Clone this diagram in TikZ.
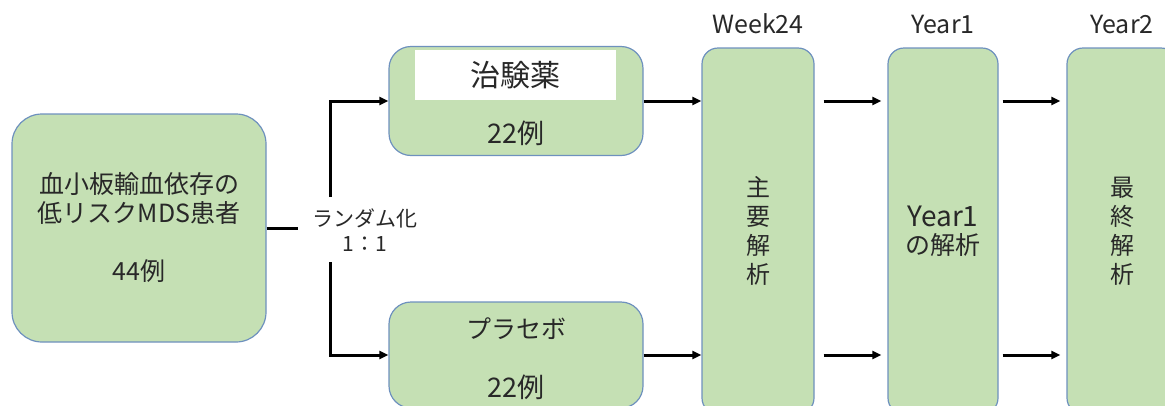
\documentclass[tikz,border=0pt]{standalone}
\usepackage{fontspec}
\setmainfont{Noto Sans CJK JP}
\usetikzlibrary{arrows.meta,calc}
\definecolor{boxfill}{RGB}{197,224,180}
\definecolor{boxline}{RGB}{110,145,190}
\definecolor{txt}{RGB}{40,40,40}
\begin{document}
\begin{tikzpicture}[x=1pt,y=-1pt,
  gbox/.style={draw=boxline,line width=1.2pt,fill=boxfill,text=txt,align=center,inner sep=0pt},
  conn/.style={line width=3pt,black},
  arr/.style={conn,-{Triangle[length=9pt,width=8pt]}},
  lbl/.style={text=txt,inner sep=0pt,font=\fontsize{25}{25}\selectfont}]
\useasboundingbox (0,0) rectangle (1165,405);
\clip (0,0) rectangle (1165,405);
% left box
\node[gbox,rounded corners=30pt,minimum width=254pt,minimum height=228pt,
  font=\fontsize{25}{29}\selectfont] (left) at (139,228)
  {血小板輸血依存の\\低リスクMDS患者\\[29pt]44例};
% treatment boxes
\node[gbox,rounded corners=22pt,minimum width=254pt,minimum height=109pt] (top) at (516,101) {};
\node[fill=white,minimum width=201pt,minimum height=50pt,inner sep=0pt,text=txt,
  font=\fontsize{30}{30}\selectfont] (topname) at (515.5,75) {治験薬};
\node[text=txt,inner sep=0pt,font=\fontsize{27}{30}\selectfont] (topn) at (516,133) {22例};
\node[gbox,rounded corners=22pt,minimum width=254pt,minimum height=106pt] (bot) at (516,355) {};
\node[text=txt,inner sep=0pt,font=\fontsize{25}{30}\selectfont] (botname) at (516,329) {プラセボ};
\node[text=txt,inner sep=0pt,font=\fontsize{27}{30}\selectfont] (botn) at (516,387) {22例};
% analysis columns
\node[gbox,rounded corners=16pt,minimum width=112pt,minimum height=366pt,
  font=\fontsize{24}{29}\selectfont] (c1) at (758,231) {主\\要\\解\\析};
\node[gbox,rounded corners=16pt,minimum width=110pt,minimum height=366pt,
  font=\fontsize{25}{28}\selectfont] (c2) at (943,231) {{\fontsize{28}{28}\selectfont Year1}\\の解析};
\node[gbox,rounded corners=16pt,minimum width=110pt,minimum height=366pt,
  font=\fontsize{24}{29}\selectfont] (c3) at (1122,231) {最\\終\\解\\析};
% time labels
\node[lbl] (t1) at (758,24) {Week24};
\node[lbl] (t2) at (943,24) {Year1};
\node[lbl] (t3) at (1122,24) {Year2};
% randomisation
\node[text=txt,align=center,inner sep=0pt,font=\fontsize{21}{25}\selectfont] (rand) at (365,230) {ランダム化\\1：1};
\coordinate (lend) at (298,228);
\coordinate (v1) at (330,197);
\coordinate (v2) at (330,262);
\draw[conn] (left.east |- lend) -- (lend);
\draw[arr] (v1) |- (top.west);
\draw[arr] (v2) |- (bot.west);
% arrows to columns
\draw[arr] (top.east) -- (top.east -| c1.west);
\draw[arr] (bot.east) -- (bot.east -| c1.west);
\draw[arr,shorten <=9pt,shorten >=6pt] (top.east -| c1.east) -- (top.east -| c2.west);
\draw[arr,shorten <=9pt,shorten >=6pt] (bot.east -| c1.east) -- (bot.east -| c2.west);
\draw[arr,shorten <=4pt,shorten >=6pt] (top.east -| c2.east) -- (top.east -| c3.west);
\draw[arr,shorten <=4pt,shorten >=6pt] (bot.east -| c2.east) -- (bot.east -| c3.west);
\end{tikzpicture}
\end{document}
